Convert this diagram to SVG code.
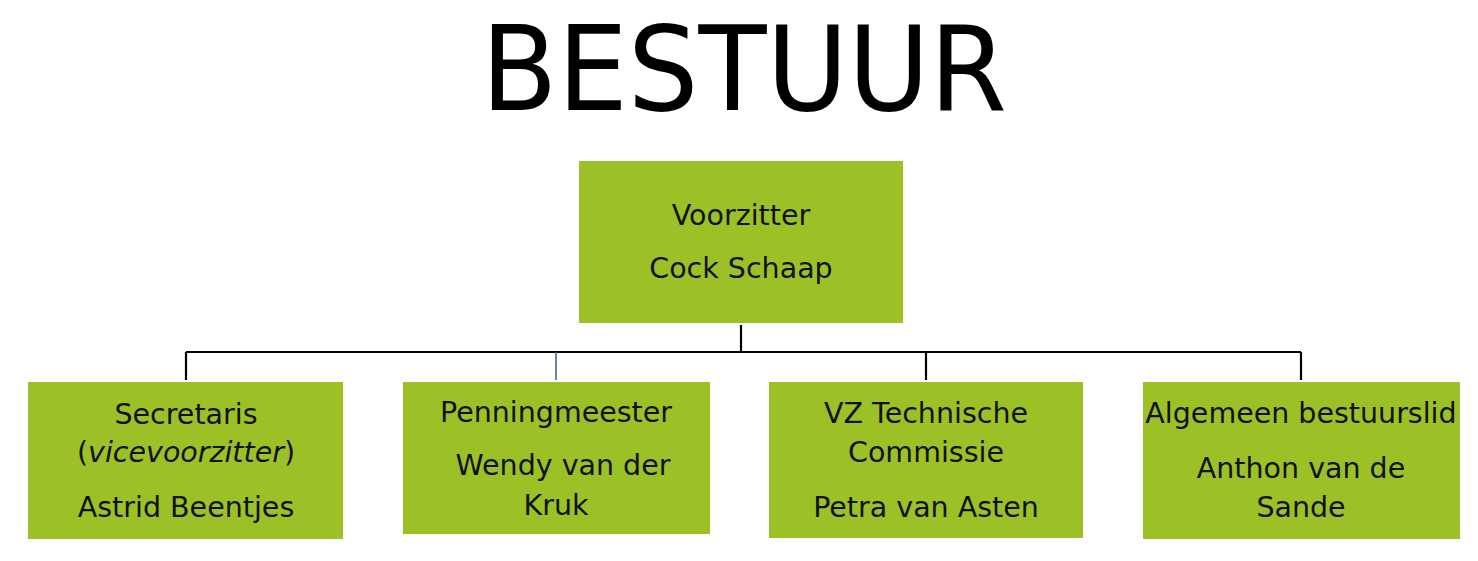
<svg xmlns="http://www.w3.org/2000/svg" width="1478" height="561" viewBox="0 0 1478 561">
<style>
.box{fill:#9cc126;}
.t{font-family:"DejaVu Sans","Liberation Sans",sans-serif;font-size:28.5px;fill:#111;text-anchor:middle;}
.it{font-style:italic;}
.ln{stroke:#000;stroke-width:2.2;fill:none;}
.title{font-family:"DejaVu Sans","Liberation Sans",sans-serif;font-size:118px;fill:#000;}
</style>
<rect width="1478" height="561" fill="#fff"/>
<text class="title" x="481" y="110" textLength="526" lengthAdjust="spacingAndGlyphs">BESTUUR</text>
<g id="connectors">
<path class="ln" d="M741 325 V352 M186 352 H1301 M186 352 V380 M926 352 V380 M1301 352 V380"/>
<path d="M556 352 V380" stroke="#3d5a8a" stroke-width="1.5" fill="none"/>
</g>
<g id="voorzitter">
<rect class="box" x="579" y="161" width="324" height="162"/>
<text class="t" x="741" y="225">Voorzitter</text>
<text class="t" x="741" y="278">Cock Schaap</text>
</g>
<g id="secretaris">
<rect class="box" x="28" y="382" width="315" height="157"/>
<text class="t" x="186" y="424">Secretaris</text>
<text class="t" x="186" y="462">(<tspan class="it">vicevoorzitter</tspan>)</text>
<text class="t" x="186" y="517">Astrid Beentjes</text>
</g>
<g id="penningmeester">
<rect class="box" x="403" y="382" width="307" height="152"/>
<text class="t" x="556" y="422">Penningmeester</text>
<text class="t" x="563" y="475">Wendy van der</text>
<text class="t" x="556" y="515">Kruk</text>
</g>
<g id="technische">
<rect class="box" x="769" y="382" width="314" height="156"/>
<text class="t" x="926" y="423">VZ Technische</text>
<text class="t" x="926" y="462">Commissie</text>
<text class="t" x="926" y="517">Petra van Asten</text>
</g>
<g id="algemeen">
<rect class="box" x="1143" y="382" width="317" height="157"/>
<text class="t" x="1301" y="423">Algemeen bestuurslid</text>
<text class="t" x="1301" y="478">Anthon van de</text>
<text class="t" x="1301" y="517">Sande</text>
</g>
</svg>
